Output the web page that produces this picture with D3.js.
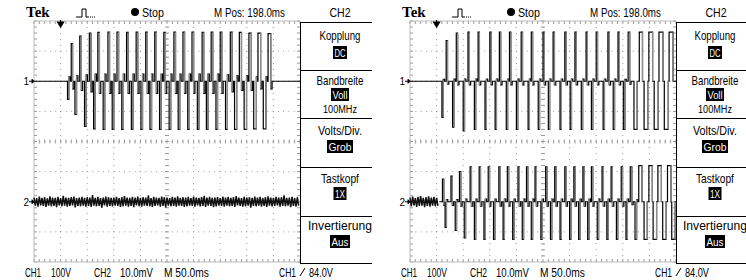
<!DOCTYPE html>
<html>
<head>
<meta charset="utf-8">
<script src="https://cdn.jsdelivr.net/npm/d3@7"></script>
<style>
body { margin: 0; background: #fff; }
text { font-family: "Liberation Sans", "DejaVu Sans", sans-serif; }
</style>
</head>
<body>
<svg id="chart" width="746" height="280"></svg>
<script>
// ---- data (time in ms, CH1 in V, CH2 in mV) ----
var menuLabels = ["Kopplung", "Bandbreite", "Volts/Div.", "Tastkopf", "Invertierung"];
var menuValues = ["DC", "Voll", "Grob", "1X", "Aus"];
var menuExtra = ["", "100MHz", "", "", ""];
var headerTexts = ["Stop", "M Pos: 198.0ms", "CH2"];
var footerTexts = ["CH1", "100V", "CH2", "10.0mV", "M 50.0ms", "CH1", "84.0V"];

// left screen, CH1 pulses
var aPosT = [70, 86, 104, 120, 139, 156, 174, 192, 210, 227, 244, 263, 280, 297, 316, 333, 350, 369, 386, 404, 421, 440];
var aPosV = [125, 150, 160, 162, 163, 163, 162, 163, 163, 163, 162, 163, 163, 163, 162, 163, 163, 163, 162, 160, 160, 158];
var aNegT = [63, 77, 95, 112, 130, 147, 165, 183, 201, 218, 236, 254, 271, 289, 307, 324, 342, 360, 377, 395, 413, 431];
var aNegV = [-60, -110, -150, -158, -160, -160, -160, -160, -160, -160, -160, -160, -160, -160, -160, -160, -160, -160, -160, -160, -158, -158];
var aWidth = [2.5, 3, 3, 3, 3, 3, 3, 3, 3, 3, 3, 3, 3, 3, 3, 3, 3, 3.5, 4, 4.5, 5, 5];
var aRing = [25, 30, 35, 40, 40, 40, 40, 40, 40, 40, 40, 40, 40, 40, 40, 40, 40, 35, 30, 30, 25, 25];

// left screen, CH2 noise envelope (max / min every 5 ms)
var aNoiseHi = [1.4, 1.2, 1.7, 1.3, 1.5, 1.1, 1.8, 1.4, 1.3, 1.6, 1.2, 2.0, 1.4, 1.3, 1.5, 1.7, 1.2, 1.4, 1.6, 1.3,
  1.5, 1.4, 2.2, 1.3, 1.6, 1.2, 1.4, 1.7, 1.5, 1.3, 1.4, 1.6, 1.2, 1.5, 1.9, 1.4, 1.3, 1.6, 1.4, 1.7,
  1.3, 1.5, 1.4, 2.1, 1.2, 1.6, 1.4, 1.3, 1.7, 1.5, 1.4, 1.2, 1.6, 1.4, 1.8, 1.3, 1.5, 1.4, 1.6, 1.2,
  1.7, 1.4, 1.3, 1.5, 2.0, 1.4, 1.6, 1.3, 1.4, 1.5, 1.2, 1.7, 1.4, 1.6, 1.3, 1.5, 1.9, 1.4, 1.2, 1.6,
  1.4, 1.5, 1.3, 1.7, 1.4, 1.6, 1.2, 1.5, 1.8, 1.4, 1.3, 1.6, 1.4, 1.5, 2.1, 1.3, 1.4, 1.6, 1.2, 1.5];
var aNoiseLo = [-1.3, -1.6, -1.2, -1.4, -1.7, -1.3, -1.5, -1.4, -1.8, -1.2, -1.5, -1.3, -1.6, -1.4, -1.2, -1.9, -1.4, -1.5, -1.3, -1.6,
  -1.4, -1.7, -1.3, -1.5, -1.4, -2.0, -1.2, -1.6, -1.4, -1.5, -1.3, -1.4, -1.7, -1.5, -1.3, -1.6, -1.4, -1.8, -1.2, -1.5,
  -1.6, -1.3, -1.4, -1.5, -1.7, -1.4, -1.2, -1.6, -1.4, -1.9, -1.3, -1.5, -1.4, -1.6, -1.3, -1.4, -1.7, -1.5, -1.3, -1.4,
  -1.6, -1.2, -1.5, -1.4, -1.7, -1.3, -1.4, -1.8, -1.5, -1.3, -1.4, -1.6, -1.3, -1.5, -1.4, -1.7, -1.2, -1.4, -1.6, -1.5,
  -1.3, -2.0, -1.4, -1.5, -1.3, -1.6, -1.4, -1.7, -1.3, -1.5, -1.4, -1.2, -1.6, -1.4, -1.5, -1.3, -1.8, -1.4, -1.6, -1.3];

// right screen, CH1 pulses
var bPosT = [68, 87, 109, 128, 150, 168, 187, 209, 228, 250, 269, 291, 310, 331, 350, 372, 391, 410, 431, 449, 468, 487];
var bPosV = [135, 160, 163, 163, 163, 163, 163, 163, 163, 163, 163, 163, 163, 163, 163, 163, 163, 163, 163, 163, 163, 163];
var bNegT = [60, 80, 100, 121, 141, 160, 181, 200, 222, 241, 260, 282, 301, 322, 341, 363, 382, 401, 421, 440, 459, 478];
var bNegV = [-120, -152, -165, -160, -160, -160, -160, -160, -160, -160, -160, -160, -160, -160, -160, -160, -160, -160, -160, -160, -160, -160];
var bWidth = [2.5, 2.5, 2.5, 2.5, 2.5, 2.5, 2.5, 2.5, 2.5, 2.5, 2.5, 2.5, 2.5, 2.5, 2.5, 2.5, 2.5, 3, 6, 7, 7.5, 7.5];
var bRing = [10, 12, 12, 12, 12, 12, 12, 12, 12, 12, 12, 12, 12, 12, 12, 12, 12, 10, 0, 0, 0, 0];

// right screen, CH2 pulses
var cPosT = [61, 77, 93, 113, 130, 147, 167, 183, 203, 219, 235, 255, 272, 291, 308, 325, 341, 361, 378, 397, 414, 430, 449, 466, 484];
var cPosV = [7.5, 8.5, 10, 11.6, 11.6, 11.6, 11.6, 11.6, 11.6, 11.6, 11.6, 11.6, 11.6, 11.6, 11.6, 11.6, 11.6, 11.6, 11.6, 11.6, 11.6, 12, 12, 12, 12];
var cNegT = [66, 85, 102, 121, 139, 157, 175, 193, 211, 228, 246, 264, 282, 300, 317, 334, 352, 370, 388, 406, 423, 440, 457, 475, 492];
var cNegV = [-8.5, -9.5, -12, -12.5, -12.5, -12.5, -12.5, -12.5, -12.5, -12.5, -12.5, -12.5, -12.5, -12.5, -12.5, -12.5, -12.5, -12.5, -12.5, -12.5, -12.5, -12.5, -12.5, -12.5, -12.5];
var cWidth = [2.5, 2.5, 2.5, 2.5, 2.5, 2.5, 2.5, 2.5, 2.5, 2.5, 2.5, 2.5, 2.5, 2.5, 2.5, 2.5, 2.5, 2.5, 2.5, 2.5, 3, 6, 6.5, 6.5, 6.5];
var cRing = [1.2, 1.2, 1.5, 1.5, 1.5, 1.5, 1.5, 1.5, 1.5, 1.5, 1.5, 1.5, 1.5, 1.5, 1.5, 1.5, 1.5, 1.5, 1.5, 1.5, 1, 0, 0, 0, 0];
var cNoiseHi = [1.4, 1.7, 1.2, 1.6, 1.9, 1.3, 1.5, 1.8, 1.4, 1.6, 1.3];
var cNoiseLo = [-1.5, -1.2, -1.7, -1.4, -1.3, -1.8, -1.4, -1.6, -1.3, -1.5, -1.4];

var svg = d3.select("#chart");

// condensed scope font: squeeze each string horizontally to the width seen on screen
function label(g, s, xx, yy, w, anchor, size) {
    var t = g.append("text").attr("font-size", size || 13).text(s);
    var n = t.node().getComputedTextLength();
    var k = w ? w / n : 1;
    var ww = w || n;
    var x0 = anchor === "middle" ? xx - ww / 2 : anchor === "end" ? xx - ww : xx;
    t.attr("transform", "translate(" + x0 + "," + yy + ") scale(" + k + ",1)");
    return t;
}

function drawScreen(ox, menuR, ch1, ch2, ch2Pulses) {
    var g = svg.append("g").attr("transform", "translate(" + ox + ",0)");
    var x = d3.scaleLinear().domain([0, 500]).range([34, 300]);
    var y = d3.scaleLinear().domain([-4, 4]).range([262, 21]);
    var y1 = function (v) { return y(2 + v / 100); };
    var y2 = function (v) { return y(-2 + v / 10); };

    // graticule: dotted lines every division
    var grid = g.append("g").attr("stroke", "#9a9a9a").attr("stroke-width", 1);
    d3.range(1, 10).forEach(function (i) {
        grid.append("line").attr("x1", x(i * 50)).attr("x2", x(i * 50)).attr("y1", y(4)).attr("y2", y(-4))
            .attr("stroke-dasharray", "1,5");
    });
    d3.range(-3, 4).forEach(function (i) {
        grid.append("line").attr("x1", x(0)).attr("x2", x(500)).attr("y1", y(i)).attr("y2", y(i))
            .attr("stroke-dasharray", "1,4.3");
    });
    // border and centre ticks
    var ticks = d3.range(0, 500.1, 10);
    var vticks = d3.range(-4, 4.01, 0.2);
    [[y(4), 3], [y(-4), -3], [y(0), 2], [y(0), -2]].forEach(function (b) {
        ticks.forEach(function (t) {
            grid.append("line").attr("x1", x(t)).attr("x2", x(t)).attr("y1", b[0]).attr("y2", b[0] + b[1]);
        });
    });
    [[x(0), 3], [x(500), -3], [x(250), 2], [x(250), -2]].forEach(function (b) {
        vticks.forEach(function (v) {
            grid.append("line").attr("y1", y(v)).attr("y2", y(v)).attr("x1", b[0]).attr("x2", b[0] + b[1]);
        });
    });
    g.append("line").attr("x1", x(0)).attr("x2", x(500)).attr("y1", y(4)).attr("y2", y(4)).attr("stroke", "#bbb");
    g.append("line").attr("x1", x(0)).attr("x2", x(500)).attr("y1", y(-4)).attr("y2", y(-4)).attr("stroke", "#bbb");
    g.append("line").attr("x1", x(0)).attr("x2", x(0)).attr("y1", y(4)).attr("y2", y(-4)).attr("stroke", "#bbb");

    // trigger marker
    g.append("path").attr("d", "M" + (x(50) - 3) + "," + (y(4) + 1) + "h6l-3,5z M" + x(50) + "," + (y(4) - 1) + "v3")
        .attr("fill", "#000").attr("stroke", "#000").attr("stroke-width", 1.2);

    var line = d3.line().x(function (d) { return x(d[0]); }).y(function (d) { return d[1]; });

    function events(p) {
        var ev = [];
        p.posT.forEach(function (t, i) { ev.push([t, p.posV[i], p.width[i], -p.ring[i]]); });
        p.negT.forEach(function (t, i) { ev.push([t, p.negV[i], p.width[i], p.ring[i] * 0.6]); });
        ev.sort(function (a, b) { return a[0] - b[0]; });
        return ev;
    }
    function pulseTrace(p, yf, t0) {
        var pts = [[t0, yf(0)]];
        events(p).forEach(function (e) {
            pts.push([e[0], yf(0)], [e[0], yf(e[1])], [e[0] + e[2], yf(e[1])], [e[0] + e[2], yf(e[3])],
                [e[0] + e[2] + 2.5, yf(e[3])], [e[0] + e[2] + 2.5, yf(0)]);
        });
        pts.push([500, yf(0)]);
        return pts;
    }
    // the falling edge of each pulse shows up lighter on the screen
    function drawPulses(p, yf, t0) {
        g.append("path").attr("d", line(pulseTrace(p, yf, t0))).attr("fill", "none")
            .attr("stroke", "#000").attr("stroke-width", 1.2);
        g.append("g").selectAll("line").data(events(p)).join("line")
            .attr("x1", function (e) { return x(e[0] + e[2]); })
            .attr("x2", function (e) { return x(e[0] + e[2]); })
            .attr("y1", function (e) { return yf(e[1]); })
            .attr("y2", function (e) { return yf(e[3]); })
            .attr("stroke", "#8c8c8c").attr("stroke-width", 1.3);
    }
    function noiseTrace(hi, lo, yf) {
        var pts = [];
        hi.forEach(function (v, i) { pts.push([i * 5, yf(v)], [i * 5 + 2.5, yf(lo[i])]); });
        return pts;
    }

    // CH1
    drawPulses(ch1, y1, 0);

    // CH2
    g.append("path").attr("d", line(noiseTrace(ch2.hi, ch2.lo, y2))).attr("fill", "none")
        .attr("stroke", "#111").attr("stroke-width", 1.5);
    if (ch2Pulses) drawPulses(ch2Pulses, y2, 55);

    // channel markers
    label(g, "1", x(0) - 5, y1(0) + 4, 0, "end", 10);
    g.append("path").attr("d", "M" + (x(0) - 5) + "," + y1(0) + "h3 M" + (x(0) - 2) + "," + (y1(0) - 2) + "l2,2l-2,2z")
        .attr("fill", "#000").attr("stroke", "#000");
    label(g, "2", x(0) - 5, y2(0) + 4, 0, "end", 10);
    g.append("path").attr("d", "M" + (x(0) - 5) + "," + y2(0) + "h3 M" + (x(0) - 2) + "," + (y2(0) - 2) + "l2,2l-2,2z")
        .attr("fill", "#000").attr("stroke", "#000");

    // header
    g.append("text").attr("x", 26).attr("y", 17).attr("font-size", 15).attr("font-weight", "bold")
        .style("font-family", "'Liberation Serif', 'DejaVu Serif', serif").text("Tek");
    g.append("path").attr("d", "M76,17h6v-8h4v8h3").attr("fill", "none").attr("stroke", "#000").attr("stroke-width", 1);
    g.append("path").attr("d", "M90,17h1M92,17h1M94,17h1").attr("stroke", "#000").attr("stroke-width", 1);
    g.append("circle").attr("cx", 135).attr("cy", 12).attr("r", 4).attr("fill", "#000");
    label(g, headerTexts[0], 142, 17, 22);
    label(g, headerTexts[1], 214, 17, 71);
    label(g, headerTexts[2], 340, 17, 21, "middle");

    // menu
    var my = [22, 70, 118, 167, 216, 263];
    var cx = (300 + menuR) / 2 + 4;
    g.append("line").attr("x1", 300.5).attr("x2", 300.5).attr("y1", my[0]).attr("y2", my[5]).attr("stroke", "#000");
    my.forEach(function (v) {
        g.append("line").attr("x1", 300).attr("x2", menuR).attr("y1", v + 0.5).attr("y2", v + 0.5).attr("stroke", "#000");
    });
    var labY = [40, 85, 135, 183, 230];
    var valY = [57, 99, 151, 198, 246];
    var labW = [41, 47, 44, 38, 64];
    var boxW = [14, 18, 26, 13, 20];
    menuLabels.forEach(function (lab, i) {
        label(g, lab, cx, labY[i], labW[i], "middle");
        g.append("rect").attr("x", cx - boxW[i] / 2).attr("y", valY[i] - 11).attr("width", boxW[i]).attr("height", 13)
            .attr("fill", "#000");
        label(g, menuValues[i], cx, valY[i], boxW[i] - 3, "middle", 11).attr("fill", "#fff");
    });
    label(g, menuExtra[1], cx, 113, 34, "middle", 11.5);

    // footer
    var fx = [25, 51, 94, 120, 164, 279, 309];
    var fw = [16, 20, 17, 33, 45, 17, 24];
    footerTexts.forEach(function (s, i) { label(g, s, fx[i], 277, fw[i]); });
    g.append("path").attr("d", "M300,276l5,-8").attr("stroke", "#000").attr("stroke-width", 1);
}

drawScreen(0, 372,
    { posT: aPosT, posV: aPosV, negT: aNegT, negV: aNegV, width: aWidth, ring: aRing },
    { hi: aNoiseHi, lo: aNoiseLo }, null);
drawScreen(376, 370,
    { posT: bPosT, posV: bPosV, negT: bNegT, negV: bNegV, width: bWidth, ring: bRing },
    { hi: cNoiseHi, lo: cNoiseLo },
    { posT: cPosT, posV: cPosV, negT: cNegT, negV: cNegV, width: cWidth, ring: cRing });
</script>
</body>
</html>
